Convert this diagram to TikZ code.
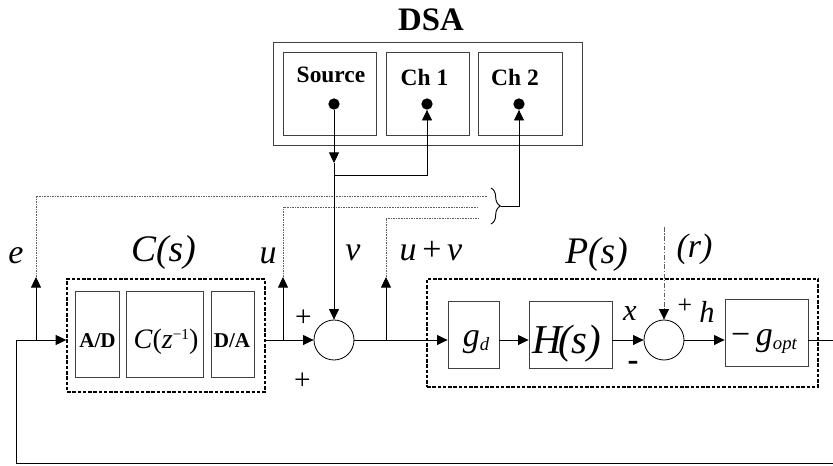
\documentclass[tikz,border=0pt]{standalone}
\usepackage{fontspec}
\setmainfont{Liberation Serif}
\usepackage{tikz}
\usetikzlibrary{positioning, arrows.meta, decorations.pathreplacing}
\definecolor{Cbdr}{RGB}{64,64,64}
\definecolor{Cdot}{RGB}{95,95,95}
\newcommand{\fsz}[1]{\fontsize{#1}{#1}\selectfont}
\tikzset{
  blk/.style n args={2}{draw=Cbdr, line width=0.7pt,
    minimum width=#1, minimum height=#2, inner sep=0pt},
  grp/.style n args={2}{draw=black, line width=1.2pt,
    dash pattern=on 3pt off 1.5pt,
    minimum width=#1, minimum height=#2, inner sep=0pt},
  sumc/.style={draw=black, line width=0.7pt, circle,
    minimum size=1.2cm, inner sep=0pt},
  jack/.style={circle, fill=black, inner sep=0pt, minimum size=0.34cm},
  lbl/.style={anchor=base, inner sep=0pt, font=\fsz{29}\itshape},
  ttl/.style={anchor=base, inner sep=0pt, font=\fsz{20}\bfseries},
  sgn/.style={inner sep=0pt, font=\fsz{25}},
  a/.style={-{Triangle[length=9pt,width=8.5pt,color=black]}, line width=0.7pt},
  w/.style={line width=0.7pt},
  tap/.style={draw=Cdot, line width=0.8pt, dash pattern=on 0.7pt off 0.7pt},
  dd/.style={draw=Cdot, line width=0.8pt,
    dash pattern=on 4pt off 1.5pt on 1pt off 1.5pt},
  brc/.style={decorate, decoration={brace, amplitude=8pt}, line width=0.8pt}
}

\begin{document}
\begin{tikzpicture}[x=0.03cm, y=-0.03cm]
\useasboundingbox (0,0) rectangle (833,465);

% ═══════════════════════════════════════════════════════════════
%  DSA  (outer box, Source / Ch 1 / Ch 2)
% ═══════════════════════════════════════════════════════════════
\node[ttl, font=\fsz{28}\bfseries] (Tdsa) at (431,30) {DSA};

\node[blk={9.27cm}{3.09cm}] (Bdsa) at (427.5,93.5) {};
\node[blk={2.79cm}{2.49cm}] (Bsrc) at (329.5,93.5) {};
\node[blk={2.49cm}{2.49cm}] (Bch1) at (427.5,93.5) {};
\node[blk={2.52cm}{2.49cm}] (Bch2) at (520,93.5) {};

\node[ttl] (Tsrc) at (331,82) {Source};
\node[ttl, font=\fsz{20}\bfseries] (Tch1) at (424.5,85) {Ch 1};
\node[ttl, font=\fsz{20}\bfseries] (Tch2) at (515,85) {Ch 2};

\node[jack] (Psrc) at (334,104) {};
\node[jack] (Pch1) at (427,104) {};
\node[jack] (Pch2) at (519,104) {};

% ═══════════════════════════════════════════════════════════════
%  C(s)  controller
% ═══════════════════════════════════════════════════════════════
\node[lbl, font=\fsz{32}\itshape] (Lcs) at (163.5,261) {C(s)};

\node[grp={5.94cm}{3.39cm}] (Gc) at (166,335.5) {};
\node[blk={1.32cm}{2.58cm}] (Bad) at (97,334) {};
\node[blk={2.31cm}{2.58cm}] (Bcz) at (164.5,334) {};
\node[blk={1.29cm}{2.58cm}] (Bda) at (232.5,334) {};

\node[ttl, font=\fsz{18}\bfseries] (Tad) at (97.5,347) {A/D};
\node[ttl, font=\fsz{24}\mdseries] (Tcz) at (166,348)
  {\textit{C}(\textit{z}\raisebox{0.25cm}{\fsz{13}−1})};
\node[ttl, font=\fsz{18}\bfseries] (Tda) at (232,347) {D/A};

\node[sumc] (S1) at (334,340) {};
\node[sgn] (Pa) at (303.5,318.5) {+};
\node[sgn] (Pb) at (302.5,381.5) {+};

% ═══════════════════════════════════════════════════════════════
%  P(s)  plant
% ═══════════════════════════════════════════════════════════════
\node[lbl, font=\fsz{32}\itshape] (Lps) at (596.5,263) {P(s)};

\node[grp={11.73cm}{3.24cm}] (Gp) at (622.5,333) {};
\node[blk={1.53cm}{2.01cm}] (Bgd) at (473.5,334.5) {};
\node[blk={2.49cm}{2.01cm}] (Bhs) at (570.5,334.5) {};
\node[sumc] (S2) at (664,340) {};
\node[blk={2.49cm}{2.01cm}] (Bgo) at (766.5,332.5) {};

\node[lbl] (Tgd) at (476,346) {g\raisebox{-0.12cm}{\fsz{16}d}};
\node[lbl, font=\fsz{35}\itshape] (Ths) at (567,353) {H\kern-0.1em(s)};
\node[lbl, font=\fsz{29}\upshape] (Tgo) at (764,345)
  {−\,\textit{g}\raisebox{-0.12cm}{\fsz{16}\itshape opt}};

\node[lbl, font=\fsz{26}\itshape] (Lx) at (630,320) {x};
\node[lbl, font=\fsz{26}\itshape] (Lh) at (707,322) {h};
\node[sgn, font=\fsz{22}] (Pc) at (685,306) {+};
\node[sgn, font=\fsz{28}\bfseries] (Mx) at (633,366) {-};
\node[lbl] (Lr) at (694.5,257) {(r)};

% ═══════════════════════════════════════════════════════════════
%  signal labels
% ═══════════════════════════════════════════════════════════════
\node[lbl] (Le) at (16,263) {e};
\node[lbl] (Lu) at (268,263) {u};
\node[lbl] (Lv) at (353,260) {v};
\node[lbl] (Luv) at (431,260) {u\,\textup{+}\,v};

% ═══════════════════════════════════════════════════════════════
%  main loop
% ═══════════════════════════════════════════════════════════════
\coordinate (My)   at (0,340);
\coordinate (inL)  at (16,340);
\coordinate (fbL)  at (16,463);
\coordinate (fbR)  at (833,463);
\coordinate (outR) at (833,340);

\draw[a] (fbR) -- (fbL) -- (inL) -- (inL -| Gc.west);
\draw[a] (Gc.east |- My) -- (S1);
\draw[a] (S1) -- (Bgd.west |- My);
\draw[a] (Bgd.east |- My) -- (Bhs.west |- My);
\draw[a] (Bhs.east |- My) -- (S2);
\draw[a] (S2) -- (Bgo.west |- My);
\draw[w] (Bgo.east |- My) -- (outR);

% disturbance (r)
\coordinate (rT) at (664,227);
\draw[a, dd] (rT) -- (S2);

% ═══════════════════════════════════════════════════════════════
%  taps e, u, u+v  ->  brace  ->  Ch 2
% ═══════════════════════════════════════════════════════════════
\coordinate (eB) at (36,340);   \coordinate (eT) at (36,277);
\coordinate (uB) at (283,340);  \coordinate (uT) at (283,277);
\coordinate (wB) at (386,340);  \coordinate (wT) at (386,277);
\coordinate (eE) at (488,196);
\coordinate (uE) at (478,207);
\coordinate (wE) at (478,218);

\draw[a] (eB) -- (eT);
\draw[a] (uB) -- (uT);
\draw[a] (wB) -- (wT);
\draw[tap] (eT) |- (eE);
\draw[tap] (uT) |- (uE);
\draw[tap] (wT) |- (wE);

\coordinate (brT) at (491,188);
\coordinate (brB) at (491,224);
\coordinate (brX) at (501,206);
\draw[brc] (brT) -- (brB);
\draw[a] (brX) -| (Pch2);

% Source -> v,  v -> Ch 1
\coordinate (vM) at (334,163);
\coordinate (vB) at (334,175);
\draw[a] (Psrc) -- (vM);
\draw[a] (vM) -- (S1);
\draw[a] (vB) -| (Pch1);

\end{tikzpicture}
\end{document}
